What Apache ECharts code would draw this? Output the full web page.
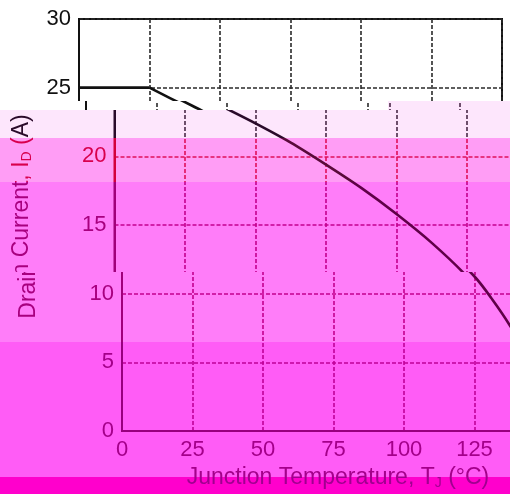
<!DOCTYPE html>
<html>
<head>
<meta charset="utf-8">
<script src="https://cdn.jsdelivr.net/npm/echarts@6/dist/echarts.min.js"></script>
<style>
html,body{margin:0;padding:0;background:#ffffff;}
#wrap{position:relative;width:510px;height:494px;overflow:hidden;}
.win{position:absolute;overflow:hidden;}
</style>
</head>
<body>
<div id="wrap"></div>
<script>
// ---- data ----
const temperatureC = [0, 25, 37.5, 50, 62.5, 75, 87.5, 100, 112.5, 125, 131.25, 137.5, 143.75, 150];
const drainCurrentA = [25, 25, 23.7, 22.4, 21.0, 19.4, 17.7, 15.8, 13.7, 11.25, 9.6, 7.7, 5.4, 0];
const xTickLabels = [0, 25, 50, 75, 100, 125, 150];
const yTickLabels = [0, 5, 10, 15, 20, 25, 30];
const xAxisTitle = '{a|Junction Temperature, T}{s|J}{a| (°C)}';
const yAxisTitle = '{a|Drain Current, I}{s|D}{a| (A)}';

// ---- layout / style ----
const FONT = "'Liberation Sans', Arial, sans-serif";
const BASE = {left: 122, top: 19, width: 423, height: 412};
// image strips: position, horizontal shift and tint colours
const strips = [
  {x: 0,   y: 0,   w: 510, h: 101, dx: -43,   bg: '#ffffff', text: '#111111', split: '#2a2a2a', axis: '#111111', curve: '#111111'},
  {x: 0,   y: 101, w: 388, h: 9,   dx: -36,   bg: '#ffffff', text: '#111111', split: '#2a2a2a', axis: '#111111', curve: '#111111'},
  {x: 388, y: 101, w: 122, h: 9,   dx: -14.5, bg: '#fde6fc', text: '#2a0a2a', split: '#4a2a48', axis: '#2a0a2a', curve: '#2a0a2a'},
  {x: 0,   y: 110, w: 510, h: 28,  dx: -7.5,  bg: '#fde6fc', text: '#2a0a2a', split: '#4a2a48', axis: '#2a0a2a', curve: '#2a0a2a'},
  {x: 0,   y: 138, w: 510, h: 44,  dx: -7.5,  bg: '#ff9df5', text: '#d8004c', split: '#e0105a', axis: '#d4003c', curve: '#5a0a3a'},
  {x: 0,   y: 182, w: 510, h: 90,  dx: -7.5,  bg: '#ff7df9', text: '#a8007f', split: '#c4008e', axis: '#a0007a', curve: '#600048'},
  {x: 0,   y: 272, w: 510, h: 70,  dx: 0,     bg: '#ff7df9', text: '#a8007f', split: '#c4008e', axis: '#a0007a', curve: '#600048'},
  {x: 0,   y: 342, w: 510, h: 135, dx: 0,     bg: '#ff5cf6', text: '#a4008a', split: '#c00098', axis: '#98007e', curve: '#680058'},
  {x: 0,   y: 477, w: 510, h: 17,  dx: 0,     bg: '#ff00cc', text: '#a00090', split: '#b00098', axis: '#98007e', curve: '#680058'}
];

function buildOption(s) {
  const pts = temperatureC.map((t, i) => [t, drainCurrentA[i]]);
  const tickStyle = {fontFamily: FONT, fontSize: 22, color: s.text};
  const nameRich = {
    a: {fontFamily: FONT, fontSize: 23, color: s.text, lineHeight: 26},
    s: {fontFamily: FONT, fontSize: 14, color: s.text, lineHeight: 14, verticalAlign: 'bottom'}
  };
  const gridLine = {show: true, lineStyle: {color: s.split, width: 1.6, type: [4, 2]}};
  const lineStyle = {color: s.curve, width: 2.6};
  return {
    animation: false,
    backgroundColor: s.bg,
    grid: {
      left: BASE.left + s.dx - s.x,
      top: BASE.top - s.y,
      width: BASE.width,
      height: BASE.height,
      containLabel: false,
      outerBoundsMode: 'none',
      show: true,
      borderColor: s.axis,
      borderWidth: 2,
      backgroundColor: 'transparent'
    },
    xAxis: {
      type: 'value',
      min: xTickLabels[0],
      max: xTickLabels[xTickLabels.length - 1],
      interval: xTickLabels[1] - xTickLabels[0],
      name: xAxisTitle,
      nameLocation: 'middle',
      nameGap: 28,
      nameTextStyle: {rich: nameRich, padding: [0, 0, 0, 9]},
      axisLine: {show: true, lineStyle: {color: s.axis, width: 2}},
      axisTick: {show: false},
      axisLabel: Object.assign({margin: 8}, tickStyle),
      splitLine: gridLine
    },
    yAxis: {
      type: 'value',
      min: yTickLabels[0],
      max: yTickLabels[yTickLabels.length - 1],
      interval: yTickLabels[1] - yTickLabels[0],
      name: yAxisTitle,
      nameLocation: 'middle',
      nameRotate: 90,
      nameGap: 80,
      nameTextStyle: {rich: nameRich, padding: [0, 0, 0, 17]},
      axisLine: {show: true, lineStyle: {color: s.axis, width: 2}},
      axisTick: {show: false},
      axisLabel: Object.assign({margin: 8}, tickStyle),
      splitLine: gridLine
    },
    series: [
      {   // flat rated-current segment
        type: 'line',
        data: pts.slice(0, 2),
        showSymbol: false,
        symbol: 'none',
        clip: true,
        lineStyle: lineStyle
      },
      {   // derating curve
        type: 'line',
        data: pts.slice(1),
        showSymbol: false,
        symbol: 'none',
        smooth: 0.3,
        clip: true,
        lineStyle: lineStyle
      }
    ]
  };
}

const wrap = document.getElementById('wrap');
strips.forEach(s => {
  const d = document.createElement('div');
  d.className = 'win';
  d.style.left = s.x + 'px';
  d.style.top = s.y + 'px';
  d.style.width = s.w + 'px';
  d.style.height = s.h + 'px';
  wrap.appendChild(d);
  const chart = echarts.init(d, null, {renderer: 'canvas', width: s.w, height: s.h});
  chart.setOption(buildOption(s));
});
</script>
</body>
</html>
